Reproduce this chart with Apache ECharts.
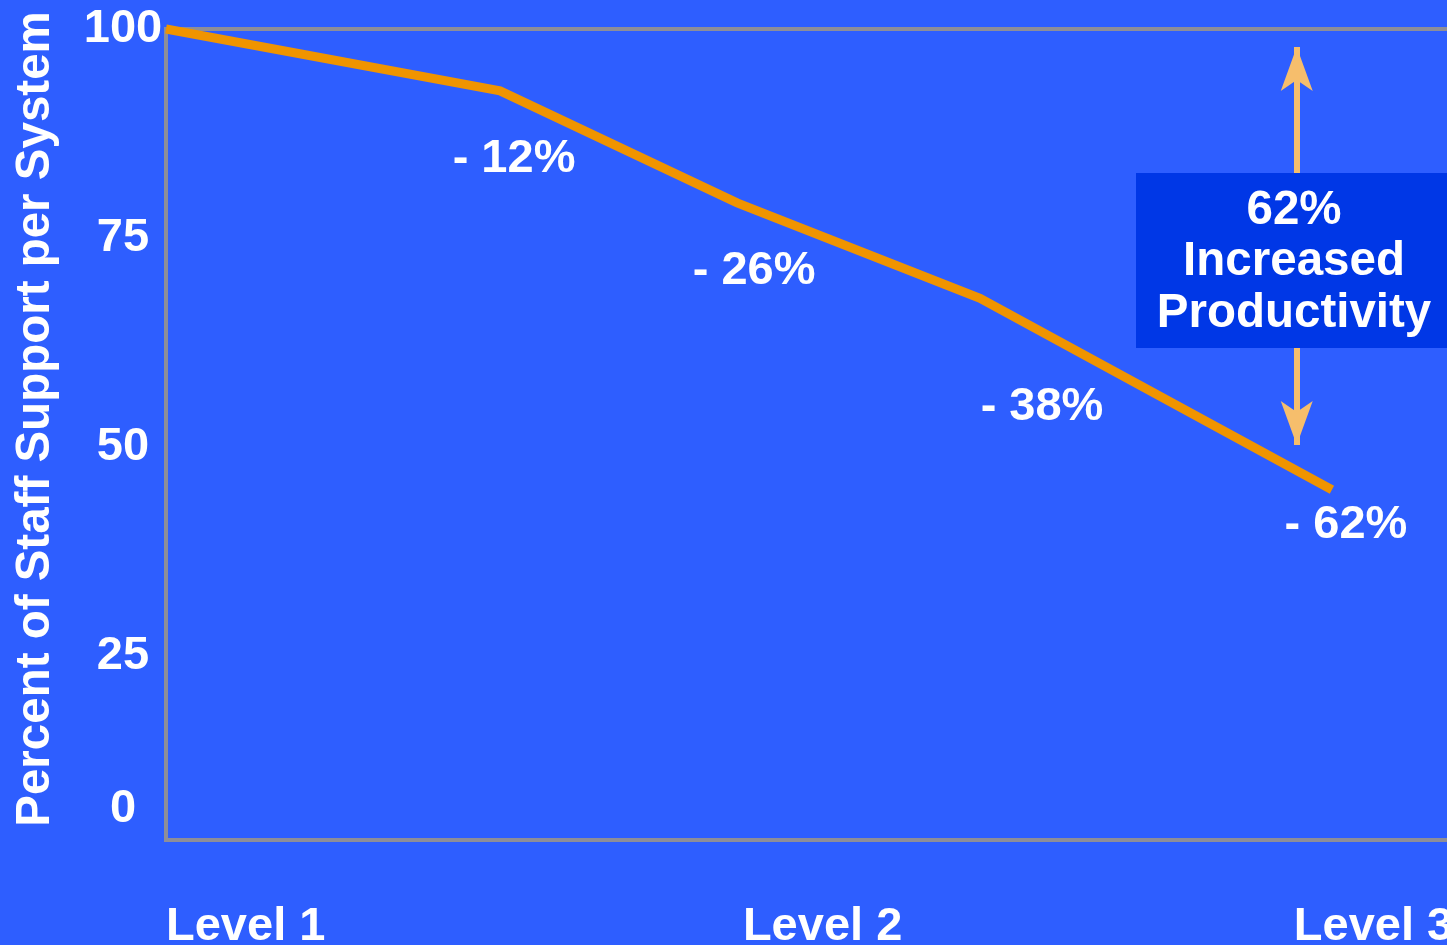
<!DOCTYPE html>
<html>
<head>
<meta charset="utf-8">
<script src="https://cdn.jsdelivr.net/npm/echarts@6/dist/echarts.min.js"></script>
<style>
  html, body { margin: 0; padding: 0; background: #2E5EFF; }
  #chart { width: 1447px; height: 945px; }
</style>
</head>
<body>
<div id="chart"></div>
<script>
// ---- data ----
const levelNames = ['Level 1', 'Level 2', 'Level 3'];
const pointX = [1, 1.579, 1.990, 2.411, 3.021];          // position along the level scale
const staffSupport = [100, 92.6, 79.2, 67.8, 44.9];       // percent of staff support per system
const changeLabels = ['', '- 12%', '- 26%', '- 38%', '- 62%'];
const yTickValues = [0, 25, 50, 75, 100];
const yTickLabels = ['0', '25', '50', '75', '100'];
const calloutLines = ['62%', 'Increased', 'Productivity'];

const FONT = "'Liberation Sans', Arial, Helvetica, sans-serif";
const Y_FLOOR = 3;
const levelLabelAt = [1, 2, 2.955];
const labelOffsets = [[0, 0], [14, 68], [17, 68], [62, 109], [14, 35]];

const chart = echarts.init(document.getElementById('chart'));

const seriesData = pointX.map((x, i) => ({
  value: [x, staffSupport[i]],
  label: {
    show: changeLabels[i] !== '',
    formatter: changeLabels[i],
    offset: labelOffsets[i]
  }
}));

function nearestIndex(arr, v) {
  let best = 0;
  for (let i = 1; i < arr.length; i++) if (Math.abs(arr[i] - v) < Math.abs(arr[best] - v)) best = i;
  return best;
}

chart.setOption({
  backgroundColor: '#2E5EFF',
  animation: false,
  grid: {
    left: 166, top: 29, width: 1294, height: 811,
    show: true, borderColor: '#8E8E98', borderWidth: 4,
    backgroundColor: 'transparent', containLabel: false,
    outerBoundsMode: 'none'
  },
  xAxis: {
    type: 'value', min: 1, max: 3.243,
    axisLine: { show: false }, axisTick: { show: false }, splitLine: { show: false },
    axisLabel: {
      customValues: levelLabelAt,
      formatter: (v) => levelNames[nearestIndex(levelLabelAt, v)],
      align: 'left', margin: 64,
      color: '#FFFFFF', fontSize: 47, fontWeight: 'bold', fontFamily: FONT
    }
  },
  yAxis: {
    type: 'value', min: Y_FLOOR, max: 100,
    axisLine: { show: false }, axisTick: { show: false }, splitLine: { show: false },
    axisLabel: {
      customValues: [Y_FLOOR, 25, 50, 75, 100],
      formatter: (v) => v === Y_FLOOR
        ? '{zero|' + yTickLabels[0] + '}'
        : '{n|' + yTickLabels[yTickValues.indexOf(v)] + '}',
      align: 'center', margin: 43,
      color: '#FFFFFF', fontSize: 47, fontWeight: 'bold', fontFamily: FONT,
      rich: {
        n: { color: '#FFFFFF', fontSize: 47, fontWeight: 'bold', fontFamily: FONT, padding: [0, 0, 0, 0] },
        zero: { color: '#FFFFFF', fontSize: 47, fontWeight: 'bold', fontFamily: FONT, padding: [0, 0, 62, 0] }
      }
    }
  },
  series: [{
    type: 'line',
    data: seriesData,
    clip: false,
    symbol: 'circle', symbolSize: 1,
    itemStyle: { color: 'rgba(0,0,0,0)' },
    lineStyle: { color: '#F09400', width: 9, cap: 'butt', join: 'miter' },
    label: {
      show: true, position: 'inside',
      color: '#FFFFFF', fontSize: 47, fontWeight: 'bold', fontFamily: FONT
    },
    emphasis: { disabled: true },
    markLine: {
      silent: true,
      symbol: ['arrow', 'arrow'],
      symbolSize: [24, 44],
      label: { show: false },
      lineStyle: { color: '#F6BE6C', width: 6, type: 'solid', opacity: 1 },
      emphasis: { disabled: true },
      data: [[{ coord: [2.960, 97.85] }, { coord: [2.960, 50.25] }]]
    }
  }],
  graphic: [
    {
      type: 'text', z: 100,
      x: 36, y: 419, rotation: Math.PI / 2,
      style: {
        text: 'Percent of Staff Support per System',
        fill: '#FFFFFF', fontSize: 47.5, fontWeight: 'bold', fontFamily: FONT,
        textAlign: 'center', textVerticalAlign: 'middle'
      }
    },
    {
      type: 'rect', z: 100,
      shape: { x: 1136, y: 173, width: 330, height: 175 },
      style: { fill: '#0037E6' }
    },
    {
      type: 'text', z: 101,
      x: 1294, y: 262,
      style: {
        text: calloutLines.join('\n'),
        fill: '#FFFFFF', fontSize: 47.5, fontWeight: 'bold', fontFamily: FONT,
        lineHeight: 51.5, textAlign: 'center', textVerticalAlign: 'middle'
      }
    }
  ]
});
</script>
</body>
</html>
